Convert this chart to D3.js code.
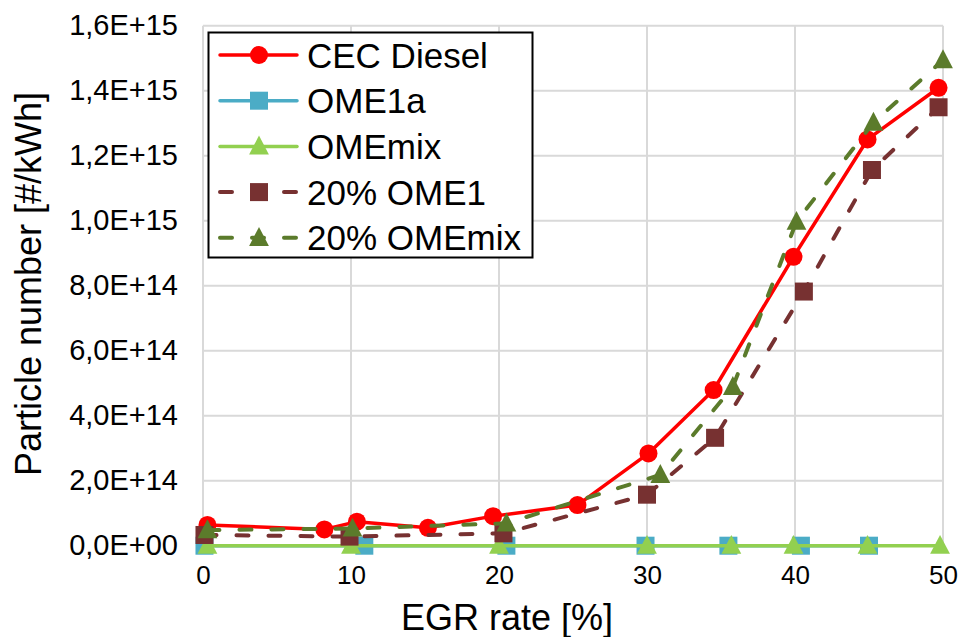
<!DOCTYPE html>
<html>
<head>
<meta charset="utf-8">
<script src="https://cdn.jsdelivr.net/npm/d3@7"></script>
<style>
  html, body { margin: 0; padding: 0; background: #fff; }
  svg { display: block; font-family: "Liberation Sans", Arial, sans-serif; }
</style>
</head>
<body>
<svg id="chart" width="959" height="637"></svg>
<script>
// EGR rate [%] and particle number [#/kWh] for each fuel
const cecDieselX = [0.3, 8.2, 10.4, 15.2, 19.6, 25.3, 30.1, 34.5, 39.9, 44.9, 49.7];
const cecDieselY = [6.4e13, 5.0e13, 7.4e13, 5.5e13, 9.1e13, 1.25e14, 2.84e14, 4.79e14, 8.89e14, 1.25e15, 1.409e15];

const ome1aX = [0.1, 10.9, 20.5, 29.9, 35.5, 40.4, 45.0];
const ome1aY = [0, 0, 0, 0, 0, 0, 0];

const omemixX = [0.3, 10.0, 20.0, 30.0, 35.7, 39.9, 44.9, 49.8];
const omemixY = [0, 0, 0, 0, 0, 0, 0, 0];

const ome1Blend20X = [0.1, 9.9, 20.3, 30.0, 34.6, 40.6, 45.2, 49.7];
const ome1Blend20Y = [3.3e13, 2.8e13, 3.8e13, 1.57e14, 3.32e14, 7.82e14, 1.156e15, 1.349e15];

const omemixBlend20X = [0.3, 10.1, 20.5, 30.9, 35.8, 40.1, 45.3, 50.0];
const omemixBlend20Y = [4.8e13, 5.3e13, 6.9e13, 2.18e14, 4.89e14, 9.97e14, 1.302e15, 1.494e15];

const seriesNames = ["CEC Diesel", "OME1a", "OMEmix", "20% OME1", "20% OMEmix"];

const xTickValues = [0, 10, 20, 30, 40, 50];
const xTickLabels = ["0", "10", "20", "30", "40", "50"];
const yTickValues = [0, 2e14, 4e14, 6e14, 8e14, 1e15, 1.2e15, 1.4e15, 1.6e15];
const yTickLabels = ["0,0E+00", "2,0E+14", "4,0E+14", "6,0E+14", "8,0E+14",
                     "1,0E+15", "1,2E+15", "1,4E+15", "1,6E+15"];

// styling per series
const styles = [
  { color: "#FF0000", marker: "circle",   dash: null },
  { color: "#4BACC6", marker: "square",   dash: null },
  { color: "#92D050", marker: "triangle", dash: null },
  { color: "#773131", marker: "square",   dash: "12,20" },
  { color: "#5B7B2B", marker: "triangle", dash: "12,20" }
];

const seriesData = [
  d3.zip(cecDieselX, cecDieselY),
  d3.zip(ome1aX, ome1aY),
  d3.zip(omemixX, omemixY),
  d3.zip(ome1Blend20X, ome1Blend20Y),
  d3.zip(omemixBlend20X, omemixBlend20Y)
];

const svg = d3.select("#chart");
const x = d3.scaleLinear().domain([0, 50]).range([203, 943]);
const y = d3.scaleLinear().domain([0, 1.6e15]).range([545.7, 25.7]);

// gridlines
const grid = svg.append("g");
grid.selectAll("line.h").data(yTickValues).join("line")
  .attr("x1", x(0)).attr("x2", x(50))
  .attr("y1", d => y(d)).attr("y2", d => y(d))
  .attr("stroke", "#D9D9D9").attr("stroke-width", 2);
grid.selectAll("line.v").data(xTickValues).join("line")
  .attr("y1", y(0)).attr("y2", y(1.6e15))
  .attr("x1", d => x(d)).attr("x2", d => x(d))
  .attr("stroke", "#D9D9D9").attr("stroke-width", 2);

// axes (labels only)
const yAxis = d3.axisLeft(y).tickValues(yTickValues)
  .tickFormat((d, i) => yTickLabels[i]).tickSize(0).tickPadding(0);
svg.append("g").attr("transform", `translate(178,0)`).call(yAxis)
  .call(g => g.select(".domain").remove())
  .selectAll("text").attr("font-size", 29).attr("fill", "#000")
  .attr("font-family", "Liberation Sans, Arial, sans-serif");

const xAxis = d3.axisBottom(x).tickValues(xTickValues)
  .tickFormat((d, i) => xTickLabels[i]).tickSize(0).tickPadding(0);
svg.append("g").attr("transform", `translate(0,566)`).call(xAxis)
  .call(g => g.select(".domain").remove())
  .selectAll("text").attr("font-size", 26).attr("fill", "#000")
  .attr("font-family", "Liberation Sans, Arial, sans-serif");

// axis titles
svg.append("text").attr("x", 507).attr("y", 630).attr("text-anchor", "middle")
  .attr("font-size", 36).text("EGR rate [%]");
svg.append("text").attr("transform", `translate(41,284) rotate(-90)`)
  .attr("text-anchor", "middle").attr("font-size", 36).text("Particle number [#/kWh]");

// marker drawing helper
function drawMarker(g, type, cx, cy, color, size) {
  if (type === "circle") {
    g.append("circle").attr("cx", cx).attr("cy", cy).attr("r", size / 2).attr("fill", color);
  } else if (type === "square") {
    g.append("rect").attr("x", cx - size / 2).attr("y", cy - size / 2)
      .attr("width", size).attr("height", size).attr("fill", color);
  } else {
    const h = size * 1.0;
    g.append("path")
      .attr("d", `M${cx},${cy - h * 0.6}L${cx + size * 0.55},${cy + h * 0.45}L${cx - size * 0.55},${cy + h * 0.45}Z`)
      .attr("fill", color);
  }
}

const line = d3.line().x(d => x(d[0])).y(d => y(d[1]));

seriesData.forEach((data, i) => {
  const s = styles[i];
  const g = svg.append("g");
  g.append("path").datum(data).attr("d", line)
    .attr("fill", "none").attr("stroke", s.color)
    .attr("stroke-width", s.dash ? 4 : 3.5)
    .attr("stroke-linecap", s.dash ? "round" : "butt")
    .attr("stroke-linejoin", "round")
    .attr("stroke-dasharray", s.dash);
  data.forEach(d => drawMarker(g, s.marker, x(d[0]), y(d[1]), s.color, 18));
});

// legend
const legend = svg.append("g");
legend.append("rect").attr("x", 208.5).attr("y", 32.5).attr("width", 324).attr("height", 225)
  .attr("fill", "#fff").attr("stroke", "#000").attr("stroke-width", 2);
seriesNames.forEach((name, i) => {
  const s = styles[i];
  const cy = 55 + i * 45.7;
  const g = legend.append("g");
  g.append("line").attr("x1", 220).attr("x2", 297).attr("y1", cy).attr("y2", cy)
    .attr("stroke", s.color).attr("stroke-width", s.dash ? 4 : 3.5)
    .attr("stroke-linecap", "round")
    .attr("stroke-dasharray", s.dash);
  drawMarker(g, s.marker, 259, cy, s.color, 18);
  g.append("text").attr("x", 307).attr("y", cy + 12.5).attr("font-size", 35).text(name);
});
</script>
</body>
</html>
